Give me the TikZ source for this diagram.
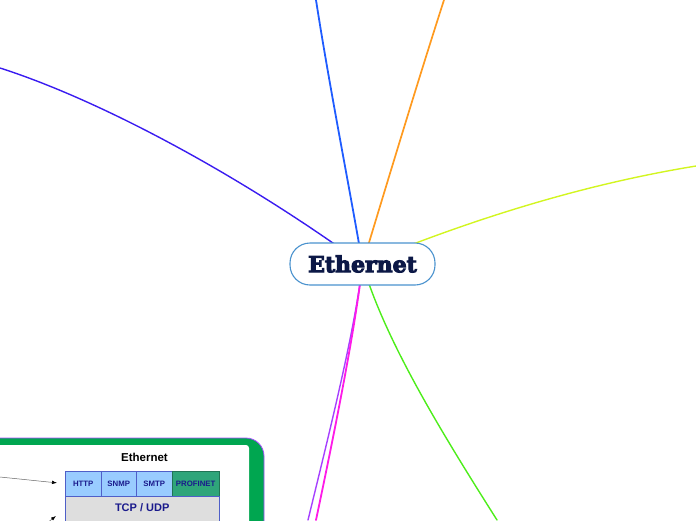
\documentclass[tikz,border=0pt]{standalone}
\usepackage{fontspec}
\setmainfont{Liberation Sans}
\newfontfamily\slabfont{DejaVu Serif}[BoldFeatures={FakeBold=4.5}]
\usetikzlibrary{backgrounds,arrows.meta}

\definecolor{rootline}{HTML}{4A92CE}
\definecolor{rootink}{HTML}{0C1846}
\definecolor{violetline}{HTML}{3A1CF0}
\definecolor{blueline}{HTML}{1F5CFF}
\definecolor{orangeline}{HTML}{FF9A1F}
\definecolor{yellowline}{HTML}{D2F520}
\definecolor{greenline}{HTML}{4DED1A}
\definecolor{magentaline}{HTML}{FF1AE8}
\definecolor{purpleline}{HTML}{A640FF}
\definecolor{framegreen}{HTML}{00A650}
\definecolor{framepurple}{HTML}{A64DFF}
\definecolor{cellblue}{HTML}{99CCFF}
\definecolor{cellteal}{HTML}{2FA57A}
\definecolor{cellgray}{HTML}{DEDEDE}
\definecolor{cellline}{HTML}{4F5FC8}
\definecolor{cellink}{HTML}{1A1A8C}

\tikzset{
	branch/.style={line width=#1, line cap=round},
	cellbox/.style={draw=cellline, fill=cellblue, text=cellink, inner sep=0pt, anchor=north west,
		minimum height=25, font=\bfseries\fontsize{7.8}{8}\selectfont},
	pointer/.style={draw=black!60, line width=0.5, -{Latex[length=5pt,width=3.5pt,black]}},
}

\begin{document}
\begin{tikzpicture}[x=1pt,y=-1pt]
			%%%%% START %%%%%
			\useasboundingbox (0,0) rectangle (696,520);
			\clip (0,0) rectangle (696,520);
			
			\node[draw=rootline, line width=1.1, fill=white, rounded corners=20, minimum width=145, minimum height=42,
				text=rootink, font=\slabfont\bfseries\fontsize{22}{24}\selectfont] (ethernet) at (362.5,264) {Ethernet};
			
			\coordinate (endleft) at (0,68);
			\coordinate (endtop) at (316,0);
			\coordinate (endorange) at (444,0);
			\coordinate (endright) at (696,166);
			\coordinate (endgreen) at (497,520);
			\coordinate (endmagenta) at (316,520);
			\coordinate (endpurple) at (308,520);
			
			\begin{scope}[on background layer]
				\draw[branch=1.4, violetline] (ethernet.center) .. controls (240,175) and (100,100) .. (endleft);
				\draw[branch=1.8, blueline] (ethernet.center) .. controls (350,190) and (330,90) .. (endtop);
				\draw[branch=1.7, orangeline] (ethernet.center) .. controls (385,190) and (415,90) .. (endorange);
				\draw[branch=1.4, yellowline] (ethernet.center) .. controls (470,220) and (580,185) .. (endright);
				\draw[branch=1.4, greenline] (ethernet.center) .. controls (385,340) and (440,430) .. (endgreen);
				\draw[branch=1.4, purpleline] (ethernet.center) .. controls (355,330) and (330,430) .. (endpurple);
				\draw[branch=1.8, magentaline] (ethernet.center) .. controls (355,330) and (335,430) .. (endmagenta);
			\end{scope}
			
			\draw[draw=framepurple, fill=framegreen, line width=0.8, rounded corners=18] (-20,438) rectangle (264,580);
			\fill[white, rounded corners=3] (-20,445) rectangle (249,580);
			
			\node[font=\bfseries\fontsize{11.5}{12}\selectfont] (stacktitle) at (144.5,457) {Ethernet};
			
			\node[cellbox, minimum width=36] (http) at (65,471) {HTTP};
			\node[cellbox, minimum width=35] (snmp) at (101,471) {SNMP};
			\node[cellbox, minimum width=36] (smtp) at (136,471) {SMTP};
			\node[cellbox, minimum width=47, fill=cellteal, draw=cellteal!70!black] (profinet) at (172,471) {PROFINET};
			\node[cellbox, minimum width=154, minimum height=30, fill=cellgray, font=\bfseries\fontsize{11}{12}\selectfont,
				text depth=0pt, anchor=north west, inner ysep=0pt] (tcpudp) at (65,496) {\raisebox{7pt}{TCP / UDP}};
			
			\coordinate (pointerA) at (0,477);
			\coordinate (pointerB) at (38,530);
			\coordinate (pointerBtip) at (56,516);
			\draw[pointer, shorten >=8] (pointerA) -- (http.west);
			\draw[pointer] (pointerB) -- (pointerBtip);
			
			%%%%% END %%%%%
\end{tikzpicture}
\end{document}
